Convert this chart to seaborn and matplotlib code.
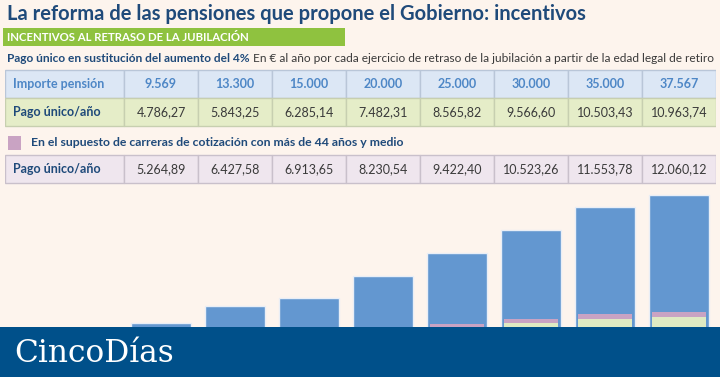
import matplotlib
matplotlib.use('Agg')
import matplotlib.pyplot as plt
import seaborn as sns
import pandas as pd
from matplotlib.patches import Rectangle

sns.set_style('white')
plt.rcParams['font.family'] = ['Lato', 'DejaVu Sans']

# datos de la tabla
pensiones = [9569, 13300, 15000, 20000, 25000, 30000, 35000, 37567]
pago_unico = [4786.27, 5843.25, 6285.14, 7482.31, 8565.82, 9566.60, 10503.43, 10963.74]
pago_44 = [5264.89, 6427.58, 6913.65, 8230.54, 9422.40, 10523.26, 11553.78, 12060.12]

BG = '#fdf4ed'
NAVY = '#1f4a7a'
BLUE_TXT = '#4e87c6'


def miles(v, dec=0):
    s = f'{v:,.{dec}f}'
    return s.replace(',', 'X').replace('.', ',').replace('X', '.')


df = pd.DataFrame({
    'pension': [miles(p) for p in pensiones],
    'importe': pensiones,
    'pago': pago_unico,
    'pago44': pago_44,
})

fig = plt.figure(figsize=(7.2, 3.77), dpi=100)
fig.patch.set_facecolor(BG)

# ---- barras ----
ax = fig.add_axes([124 / 720, 10 / 377, 592 / 720, 180 / 377])
ax.set_facecolor(BG)
sns.barplot(data=df, x='pension', y='importe', color='#6397d0', width=0.8,
            saturation=1, edgecolor='#e9eef6', linewidth=1, ax=ax)
sns.barplot(data=df, x='pension', y='pago44', color='#c9a3c3', width=0.72,
            saturation=1, linewidth=0, ax=ax)
sns.barplot(data=df, x='pension', y='pago', color='#dfeac3', width=0.72,
            saturation=1, linewidth=0, ax=ax)
ax.set_xlim(-0.5, 7.5)
ax.set_ylim(0, 180 / 0.004572)
ax.axis('off')

# ---- tabla ----
tab = fig.add_axes([5 / 720, 0, 711 / 720, 1])
tab.set_xlim(-2.108, 7.5)
tab.set_ylim(377, 0)
tab.axis('off')


def fila(y0, y1, fondo, borde, etiqueta, valores, col_lab, col_val, peso_val):
    tab.add_patch(Rectangle((-2.108, y0), 1.608, y1 - y0, facecolor=fondo,
                            edgecolor=borde, lw=1))
    tab.text(-2.0, (y0 + y1) / 2, etiqueta, color=col_lab, fontsize=9,
             fontweight='bold', va='center', ha='left')
    for i, v in enumerate(valores):
        tab.add_patch(Rectangle((i - 0.5, y0), 1, y1 - y0, facecolor=fondo,
                                edgecolor=borde, lw=1))
        tab.text(i, (y0 + y1) / 2, v, color=col_val, fontsize=9,
                 fontweight=peso_val, va='center', ha='center')


fila(70, 97.5, '#dce7f5', '#b9c6d8', 'Importe pensión', df['pension'],
     BLUE_TXT, BLUE_TXT, 'bold')
fila(97.5, 126, '#e5edc8', '#c7cfb0', 'Pago único/año',
     [miles(v, 2) for v in pago_unico], NAVY, '#3a3a3a', 'normal')
fila(155, 183, '#efe6ee', '#c9c0cb', 'Pago único/año',
     [miles(v, 2) for v in pago_44], NAVY, '#3a3a3a', 'normal')

# ---- textos de cabecera ----
fig.text(7 / 720, 1 - 14 / 377, 'La reforma de las pensiones que propone el Gobierno: incentivos',
         color=NAVY, fontsize=14.5, fontweight='bold', va='center', ha='left')
fig.patches.append(Rectangle((3 / 720, 1 - 46 / 377), 342 / 720, 17.5 / 377,
                             transform=fig.transFigure, facecolor='#8fc23f',
                             edgecolor='none'))
fig.text(7 / 720, 1 - 37.5 / 377, 'INCENTIVOS AL RETRASO DE LA JUBILACIÓN',
         color='white', fontsize=8.2, fontweight='bold', va='center', ha='left')
t = fig.text(7 / 720, 1 - 59 / 377, 'Pago único en sustitución del aumento del 4%',
             color=NAVY, fontsize=8.6, fontweight='bold', va='center', ha='left')
fig.canvas.draw()
bb = t.get_window_extent()
fig.text((bb.x1 + 3) / 720, 1 - 59 / 377,
         'En € al año por cada ejercicio de retraso de la jubilación a partir de la edad legal de retiro',
         color='#3a3a3a', fontsize=8.6, va='center', ha='left')

fig.patches.append(Rectangle((8 / 720, 1 - 150 / 377), 13 / 720, 14 / 377,
                             transform=fig.transFigure, facecolor='#c9a3c3',
                             edgecolor='none'))
fig.text(31 / 720, 1 - 143 / 377,
         'En el supuesto de carreras de cotización con más de 44 años y medio',
         color=NAVY, fontsize=8.85, fontweight='bold', va='center', ha='left')

# ---- pie ----
pie = fig.add_axes([0, 0, 1, 50 / 377])
pie.set_facecolor('#00508a')
pie.set_xticks([])
pie.set_yticks([])
for s in pie.spines.values():
    s.set_visible(False)
pie.text(14 / 720, 0.48, 'CincoDías', color='white', fontsize=22.5,
         family='DejaVu Serif', va='center', ha='left', transform=pie.transAxes)

fig.savefig('out.png', dpi=100, facecolor=BG)
